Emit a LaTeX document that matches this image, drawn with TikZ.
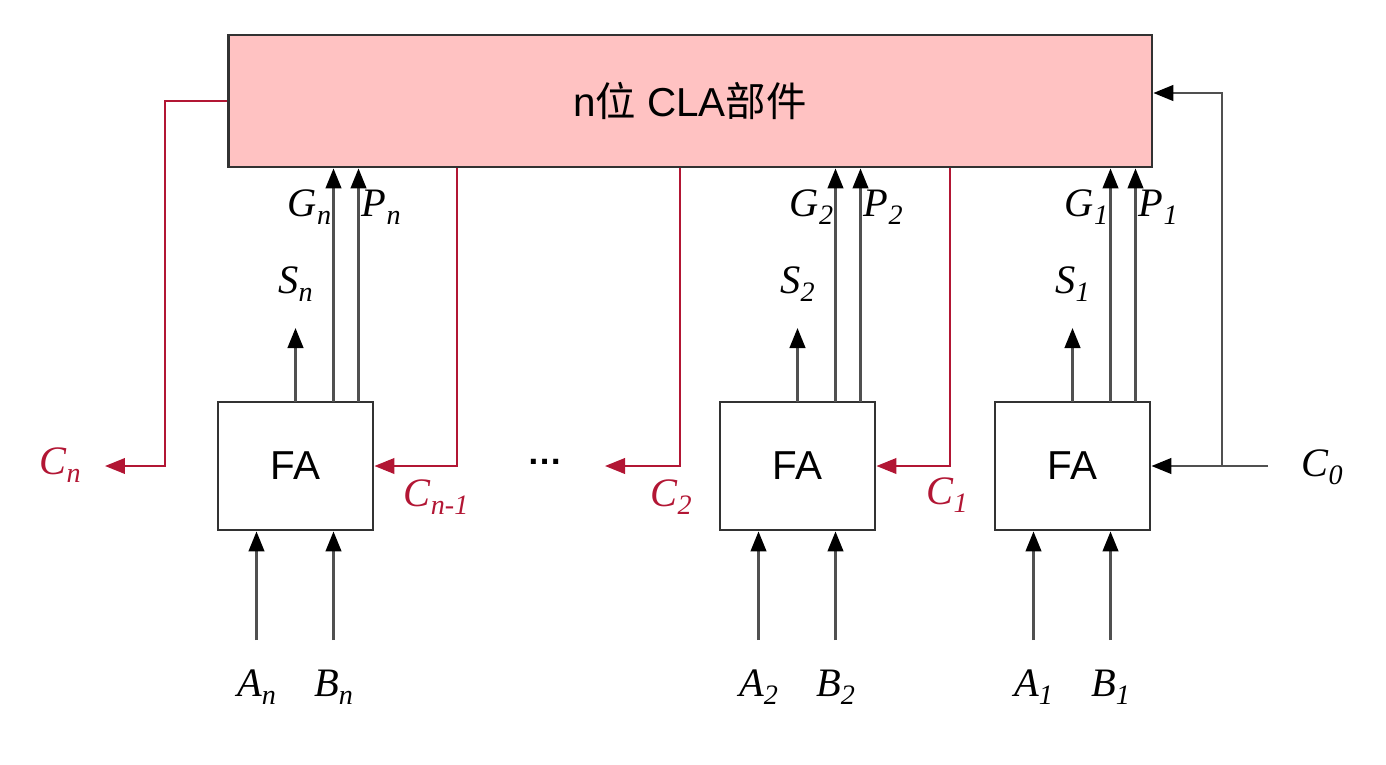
\documentclass[tikz,border=0pt]{standalone}
\usepackage{fontspec}
\setmainfont{Liberation Serif}
\setsansfont{Liberation Sans}
\newfontfamily\cjk{Noto Sans CJK SC}
\usepackage{tikz}
\usetikzlibrary{positioning, arrows.meta, calc}
\usepackage{xcolor}

\definecolor{clapink}{RGB}{255,194,194}
\definecolor{carryred}{RGB}{178,22,52}
\definecolor{wiregray}{RGB}{80,80,80}
\definecolor{boxline}{RGB}{50,50,50}

% italic signal name with italic subscript
\newcommand{\lbl}[2]{\textit{#1}\raisebox{-0.45ex}{\fontsize{16}{16}\selectfont\textit{#2}}}

\begin{document}
\begin{tikzpicture}[x=0.02cm, y=-0.02cm,
    fabox/.style={draw=boxline, line width=1.6pt, minimum width=3.1cm, minimum height=2.56cm,
        font=\sffamily\fontsize{23}{26}\selectfont},
    clabox/.style={draw=boxline, line width=1.6pt, fill=clapink, minimum width=18.48cm,
        minimum height=2.64cm, font=\sffamily\fontsize{23}{26}\selectfont},
    sig/.style={draw=wiregray, line width=1.5pt, -{Triangle[length=4mm, width=3.1mm, color=black]}},
    carry/.style={draw=carryred, line width=1.3pt, -{Triangle[length=4mm, width=3.1mm]}},
    lab/.style={font=\fontsize{23}{25}\selectfont, inner sep=0pt},
    rlab/.style={lab, text=carryred}]
    \useasboundingbox (0,0) rectangle (1386,764);

    % the CLA unit
    \node[clabox] (cla) at (690,101) {n{\cjk 位} CLA{\cjk 部件}};

    % full adders with their S, G, P outputs and A, B inputs
    \foreach \i/\x in {n/295.5, 2/797.5, 1/1072.5} {
        \node[fabox] (fa\i) at (\x,466) {FA};
        \coordinate (s\i) at (\x,402);
        \coordinate (g\i) at (\x+38,402);
        \coordinate (p\i) at (\x+63,402);
        \coordinate (a\i) at (\x-39,640);
        \coordinate (b\i) at (\x+38,640);
        \draw[sig] (s\i) -- ++(0,-74);
        \draw[sig] (g\i) -- (g\i |- cla.south);
        \draw[sig] (p\i) -- (p\i |- cla.south);
        \draw[sig] (a\i) -- (a\i |- fa\i.south);
        \draw[sig] (b\i) -- (b\i |- fa\i.south);
        \node[lab, anchor=base] at (\x,293) {\lbl{S}{\i}};
        \node[lab, anchor=base east] at (\x+36,216) {\lbl{G}{\i}};
        \node[lab, anchor=base west] at (\x+66,216) {\lbl{P}{\i}};
        \node[lab, anchor=base] at ($(a\i)+(0,56)$) {\lbl{A}{\i}};
        \node[lab, anchor=base] at ($(b\i)+(0,56)$) {\lbl{B}{\i}};
    }

    % carries coming out of the CLA unit
    \coordinate (cn) at (105,466);
    \coordinate (c2) at (605,466);
    \draw[carry] (cla.west) -| (165,466) -- (cn);
    \draw[carry] (cla.south -| 457,0) |- (fan.east);
    \draw[carry] (cla.south -| 680,0) |- (c2);
    \draw[carry] (cla.south -| 950,0) |- (fa2.east);

    % C0 into the lowest adder and into the CLA unit
    \coordinate (c0) at (1268,466);
    \coordinate (cj) at (1222,466);
    \draw[sig] (c0) -- (fa1.east);
    \draw[sig] (cj) |- (cla.east |- 0,93);

    \node[rlab, anchor=base] at (60,474) {\lbl{C}{n}};
    \node[rlab, anchor=base] at (436,506) {\lbl{C}{n-1}};
    \node[rlab, anchor=base] at (671,506) {\lbl{C}{2}};
    \node[rlab, anchor=base] at (947,504) {\lbl{C}{1}};
    \node[lab, anchor=base] at (1322,476) {\lbl{C}{0}};
    \node[font=\sffamily\bfseries\fontsize{20}{24}\selectfont] (dots) at (545,462) {\ldots};
\end{tikzpicture}
\end{document}
